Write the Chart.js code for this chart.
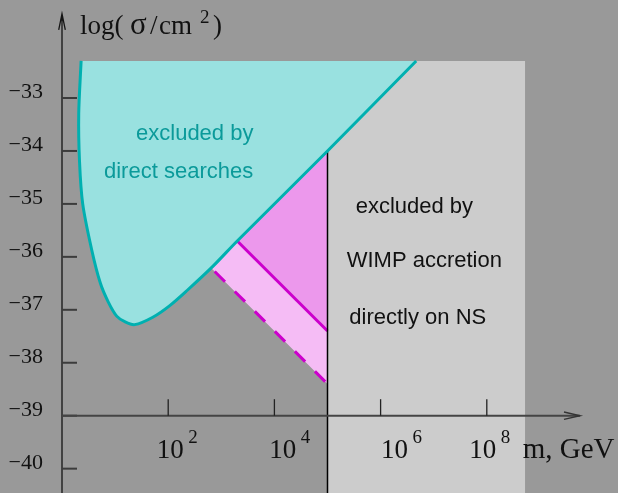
<!DOCTYPE html>
<html>
<head>
<meta charset="utf-8">
<script src="https://cdn.jsdelivr.net/npm/chart.js@4.4.1/dist/chart.umd.min.js"></script>
<style>
  html, body { margin: 0; padding: 0; background: #999999; }
  #wrap { width: 618px; height: 493px; position: relative; }
</style>
</head>
<body>
<div id="wrap"><canvas id="c"></canvas></div>
<script>
// All values are log10(m / GeV) and log10(sigma / cm^2).

// Direct-search exclusion contour (closed along the top of the plot)
const directMass  = [0.36, 0.315, 0.33, 0.39, 0.56, 0.72, 0.87, 1.03, 1.19, 1.37, 1.71, 2.03, 2.35, 2.84, 3.30, 5.00, 6.67];
const directSigma = [-32.30, -33.30, -34.20, -35.00, -35.87, -36.49, -36.85, -37.12, -37.23, -37.28, -37.14, -36.92, -36.64, -36.18, -35.70, -34.00, -32.30];

// NS accretion bound: solid and dashed limits below the direct-search edge
const solidMass   = [3.30, 5.00];
const solidSigma  = [-35.70, -37.40];
const dashedMass  = [2.80, 5.00];
const dashedSigma = [-36.20, -38.40];

// Mass window excluded by WIMP accretion directly on the NS
const nsMassRange = [5.00, 8.72];
const plotTopSigma = -32.30;

// Axis ticks
const xTickValues = [2, 4, 6, 8];
const xTickLabels = ['10', '10', '10', '10'];
const xTickPowers = ['2', '4', '6', '8'];
const yTickValues = [-33, -34, -35, -36, -37, -38, -39, -40];
const yTickLabels = yTickValues.map(v => '\u2212' + Math.abs(v));

// Visible window of the two scales
const xRange = [-1.1676, 10.4708];
const yRange = [-40.4599, -31.1492];

const pts = (xs, ys) => xs.map((v, i) => ({ x: v, y: ys[i] }));

// Polygons assembled from the arrays above
const nsRect = [
  { x: nsMassRange[0], y: plotTopSigma }, { x: nsMassRange[1], y: plotTopSigma },
  { x: nsMassRange[1], y: yRange[0] - 1 }, { x: nsMassRange[0], y: yRange[0] - 1 }
];
const edgeAt5 = directSigma[directMass.indexOf(5.00)];
const darkBand = [
  { x: solidMass[0], y: solidSigma[0] }, { x: 5.00, y: edgeAt5 }, { x: solidMass[1], y: solidSigma[1] }
];
const lightBand = [
  { x: dashedMass[0], y: dashedSigma[0] }, { x: solidMass[0], y: solidSigma[0] },
  { x: solidMass[1], y: solidSigma[1] }, { x: dashedMass[1], y: dashedSigma[1] }
];
const nsEdge = [{ x: nsMassRange[0], y: edgeAt5 }, { x: nsMassRange[0], y: yRange[0] - 1 }];

const style = {
  serif: '"Liberation Serif", "Times New Roman", serif',
  sans: '"Liberation Sans", Arial, Helvetica, sans-serif',
  ink: '#111111'
};

// Text placed in data coordinates (left edge, baseline)
const notes = [
  { text: 'excluded by',     x: 1.394, y: -33.784, color: '#0b9a9a' },
  { text: 'direct searches', x: 0.791, y: -34.505, color: '#0b9a9a' },
  { text: 'excluded by',     x: 5.531, y: -35.178, color: '#111111' },
  { text: 'WIMP accretion',  x: 5.362, y: -36.186, color: '#111111' },
  { text: 'directly on NS',  x: 5.411, y: -37.274, color: '#111111' }
];
const xLabelLeft = [1.783, 3.904, 6.008, 7.671];
const xLabelBaseline = -39.805;
const axisTip = { x: 9.755, y: -31.41 };

const overlay = {
  id: 'overlay',
  beforeDraw(chart) {
    const ctx = chart.ctx;
    ctx.save();
    ctx.fillStyle = '#999999';
    ctx.fillRect(0, 0, chart.width, chart.height);
    ctx.restore();
  },
  afterDatasetsDraw(chart) {
    const { ctx, scales: { x, y } } = chart;
    const px = v => x.getPixelForValue(v);
    const py = v => y.getPixelForValue(v);
    ctx.save();

    // vertical axis with open arrow
    const x0 = px(0);
    const tipY = py(axisTip.y);
    ctx.strokeStyle = '#151515';
    ctx.lineWidth = 1.3;
    ctx.beginPath();
    ctx.moveTo(x0, chart.height);
    ctx.lineTo(x0, tipY);
    ctx.moveTo(x0 - 3.3, tipY + 16);
    ctx.lineTo(x0, tipY);
    ctx.lineTo(x0 + 3.3, tipY + 16);
    ctx.stroke();

    // y ticks and labels
    ctx.strokeStyle = '#3c3c3c';
    ctx.lineWidth = 2;
    ctx.font = '22px ' + style.serif;
    ctx.fillStyle = style.ink;
    ctx.textAlign = 'right';
    ctx.textBaseline = 'alphabetic';
    yTickValues.forEach((v, i) => {
      const yy = py(v);
      ctx.beginPath();
      ctx.moveTo(x0, yy);
      ctx.lineTo(x0 + 15, yy);
      ctx.stroke();
      ctx.fillText(yTickLabels[i], x0 - 19, yy + 0.5);
    });

    // horizontal axis with open arrow
    const yAx = py(-39);
    const tipX = px(axisTip.x);
    ctx.strokeStyle = '#444444';
    ctx.lineWidth = 2;
    ctx.beginPath();
    ctx.moveTo(x0, yAx);
    ctx.lineTo(tipX, yAx);
    ctx.stroke();
    ctx.lineWidth = 1.4;
    ctx.strokeStyle = '#333333';
    ctx.beginPath();
    ctx.moveTo(tipX - 16, yAx - 3.7);
    ctx.lineTo(tipX, yAx);
    ctx.lineTo(tipX - 16, yAx + 3.7);
    ctx.stroke();

    // x ticks
    ctx.strokeStyle = '#222222';
    ctx.lineWidth = 1.3;
    xTickValues.forEach(v => {
      const xx = px(v);
      ctx.beginPath();
      ctx.moveTo(xx, yAx);
      ctx.lineTo(xx, yAx - 16.5);
      ctx.stroke();
    });

    // x tick labels: 10^n
    ctx.textAlign = 'left';
    const baseY = py(xLabelBaseline);
    xTickValues.forEach((v, i) => {
      const lx = px(xLabelLeft[i]);
      ctx.font = '27px ' + style.serif;
      ctx.fillText(xTickLabels[i], lx, baseY);
      const w = ctx.measureText(xTickLabels[i]).width;
      ctx.font = '19px ' + style.serif;
      ctx.fillText(xTickPowers[i], lx + w + 4.5, baseY - 15);
    });

    // axis titles
    ctx.font = '29px ' + style.serif;
    ctx.fillText('m, GeV', px(8.676), baseY);

    // log(sigma/cm^2), set piece by piece
    const tx = px(0.339), ty = py(-31.797);
    ctx.font = '27px ' + style.serif;
    ctx.fillText('log(', tx, ty);
    ctx.font = '31px ' + style.serif;
    ctx.fillText('\u03c3', tx + 50, ty);
    ctx.font = '27px ' + style.serif;
    ctx.fillText('/', tx + 70, ty);
    ctx.fillText('cm', tx + 79, ty);
    ctx.font = '19px ' + style.serif;
    ctx.fillText('2', tx + 120, ty - 11.6);
    ctx.font = '27px ' + style.serif;
    ctx.fillText(')', tx + 133, ty);

    // region annotations
    ctx.font = '22px ' + style.sans;
    notes.forEach(n => {
      ctx.fillStyle = n.color;
      ctx.fillText(n.text, px(n.x), py(n.y));
    });

    ctx.restore();
  }
};

new Chart(document.getElementById('c'), {
  type: 'line',
  data: {
    datasets: [
      { data: nsRect, fill: 'shape', backgroundColor: '#cccccc', borderWidth: 0, order: 10 },
      { data: lightBand, fill: 'shape', backgroundColor: '#f5bcf5', borderWidth: 0, order: 9 },
      { data: darkBand, fill: 'shape', backgroundColor: '#ec98ec', borderWidth: 0, order: 8 },
      { data: pts(solidMass, solidSigma), fill: false, borderColor: '#cc00cc', borderWidth: 3, order: 7 },
      { data: pts(dashedMass, dashedSigma), fill: false, borderColor: '#cc00cc', borderWidth: 3,
        borderDash: [14.5, 13.8], borderDashOffset: 22.6, order: 6 },
      { data: nsEdge, fill: false, borderColor: '#000000', borderWidth: 1.5, order: 5 },
      { data: pts(directMass, directSigma), fill: 'shape', backgroundColor: '#99e1e0',
        borderColor: '#00b0b0', borderWidth: 3, tension: 0.3, order: 4 }
    ]
  },
  options: {
    responsive: true,
    maintainAspectRatio: false,
    animation: false,
    events: [],
    layout: { padding: 0 },
    elements: { point: { radius: 0, hoverRadius: 0 }, line: { tension: 0 } },
    plugins: { legend: { display: false }, tooltip: { enabled: false } },
    scales: {
      x: { type: 'linear', min: xRange[0], max: xRange[1], display: false },
      y: { type: 'linear', min: yRange[0], max: yRange[1], display: false }
    }
  },
  plugins: [overlay]
});
</script>
</body>
</html>
